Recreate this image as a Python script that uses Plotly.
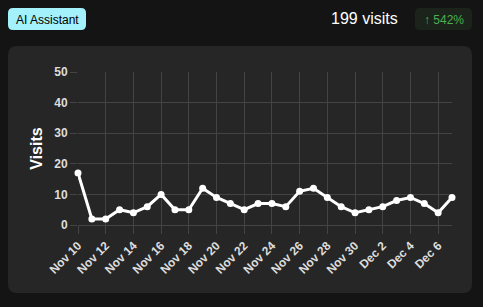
import plotly.graph_objects as go

# ---- data ----
dates = [
    "2024-11-10", "2024-11-11", "2024-11-12", "2024-11-13", "2024-11-14",
    "2024-11-15", "2024-11-16", "2024-11-17", "2024-11-18", "2024-11-19",
    "2024-11-20", "2024-11-21", "2024-11-22", "2024-11-23", "2024-11-24",
    "2024-11-25", "2024-11-26", "2024-11-27", "2024-11-28", "2024-11-29",
    "2024-11-30", "2024-12-01", "2024-12-02", "2024-12-03", "2024-12-04",
    "2024-12-05", "2024-12-06", "2024-12-07",
]
visits = [17, 2, 2, 5, 4, 6, 10, 5, 5, 12,
          9, 7, 5, 7, 7, 6, 11, 12, 9, 6,
          4, 5, 6, 8, 9, 7, 4, 9]
tick_dates = ["2024-11-10", "2024-11-12", "2024-11-14", "2024-11-16", "2024-11-18",
              "2024-11-20", "2024-11-22", "2024-11-24", "2024-11-26", "2024-11-28",
              "2024-11-30", "2024-12-02", "2024-12-04", "2024-12-06"]
tick_labels = ["Nov 10", "Nov 12", "Nov 14", "Nov 16", "Nov 18", "Nov 20", "Nov 22",
               "Nov 24", "Nov 26", "Nov 28", "Nov 30", "Dec 2", "Dec 4", "Dec 6"]
y_ticks = [0, 10, 20, 30, 40, 50]
badge_label = "AI Assistant"
total_label = "199 visits"
change_label = "↑ 542%"

# ---- geometry ----
W, H = 483, 307
L, R, T, B = 78, 452, 72, 225  # plot area in pixels
PW, PH = R - L, B - T


def px(x):
    return (x - L) / PW


def py(y):
    return (B - y) / PH


def rounded_rect(x0, y0, x1, y1, r):
    rx, ry = r / PW, r / PH
    X0, X1 = px(x0), px(x1)
    Y0, Y1 = py(y0), py(y1)  # Y0 top (larger), Y1 bottom
    return (
        f"M {X0 + rx},{Y0} L {X1 - rx},{Y0} Q {X1},{Y0} {X1},{Y0 - ry} "
        f"L {X1},{Y1 + ry} Q {X1},{Y1} {X1 - rx},{Y1} "
        f"L {X0 + rx},{Y1} Q {X0},{Y1} {X0},{Y1 + ry} "
        f"L {X0},{Y0 - ry} Q {X0},{Y0} {X0 + rx},{Y0} Z"
    )


FONT = "Arial, 'Liberation Sans', sans-serif"
GRID = "#444444"

fig = go.Figure()
fig.add_trace(go.Scatter(
    x=dates, y=visits, mode="lines+markers",
    line=dict(color="#ffffff", width=3),
    marker=dict(color="#ffffff", size=7),
    cliponaxis=False, hoverinfo="skip", showlegend=False,
))

shapes = [
    dict(type="path", xref="paper", yref="paper", layer="below",
         path=rounded_rect(8, 46, 472, 293, 9),
         fillcolor="#262626", line=dict(width=0)),
    dict(type="path", xref="paper", yref="paper", layer="below",
         path=rounded_rect(8, 8, 86, 30, 5),
         fillcolor="#a2f1fb", line=dict(width=0)),
    dict(type="path", xref="paper", yref="paper", layer="below",
         path=rounded_rect(415, 8, 472, 30, 5),
         fillcolor="#1b231b", line=dict(width=0)),
]

annotations = [
    dict(text=badge_label, x=px(47), y=py(19.5), xref="paper", yref="paper",
         showarrow=False, xanchor="center", yanchor="middle",
         font=dict(family=FONT, size=12, color="#000000")),
    dict(text=total_label, x=px(399.5), y=py(18.5), xref="paper", yref="paper",
         showarrow=False, xanchor="right", yanchor="middle",
         font=dict(family=FONT, size=16, color="#ffffff")),
    dict(text=change_label, x=px(443.5), y=py(19.5), xref="paper", yref="paper",
         showarrow=False, xanchor="center", yanchor="middle",
         font=dict(family=FONT, size=12, color="#4caf50")),
]

fig.update_layout(
    width=W, height=H,
    margin=dict(l=L, r=W - R, t=T, b=H - B, pad=0),
    paper_bgcolor="#141414",
    plot_bgcolor="rgba(0,0,0,0)",
    shapes=shapes,
    annotations=annotations,
    font=dict(family=FONT, color="#dddddd"),
    xaxis=dict(
        type="date", range=[dates[0], dates[-1]],
        tickmode="array", tickvals=tick_dates, ticktext=tick_labels,
        tickangle=-45, showgrid=True, gridcolor=GRID, gridwidth=1,
        ticks="outside", ticklen=8, tickcolor=GRID, tickwidth=1,
        tickfont=dict(family=FONT, size=12, color="#dddddd", weight="bold"),
        zeroline=False, showline=False,
    ),
    yaxis=dict(
        range=[0, 50], tickmode="array", tickvals=y_ticks,
        showgrid=True, gridcolor=GRID, gridwidth=1,
        ticks="outside", ticklen=7, tickcolor=GRID, tickwidth=1,
        tickfont=dict(family=FONT, size=12, color="#dddddd", weight="bold"),
        zeroline=True, zerolinecolor=GRID, zerolinewidth=1, showline=False,
        title=dict(text="Visits", standoff=7,
                   font=dict(family=FONT, size=16, color="#ffffff", weight="bold")),
    ),
)

fig.write_html("out.html")
